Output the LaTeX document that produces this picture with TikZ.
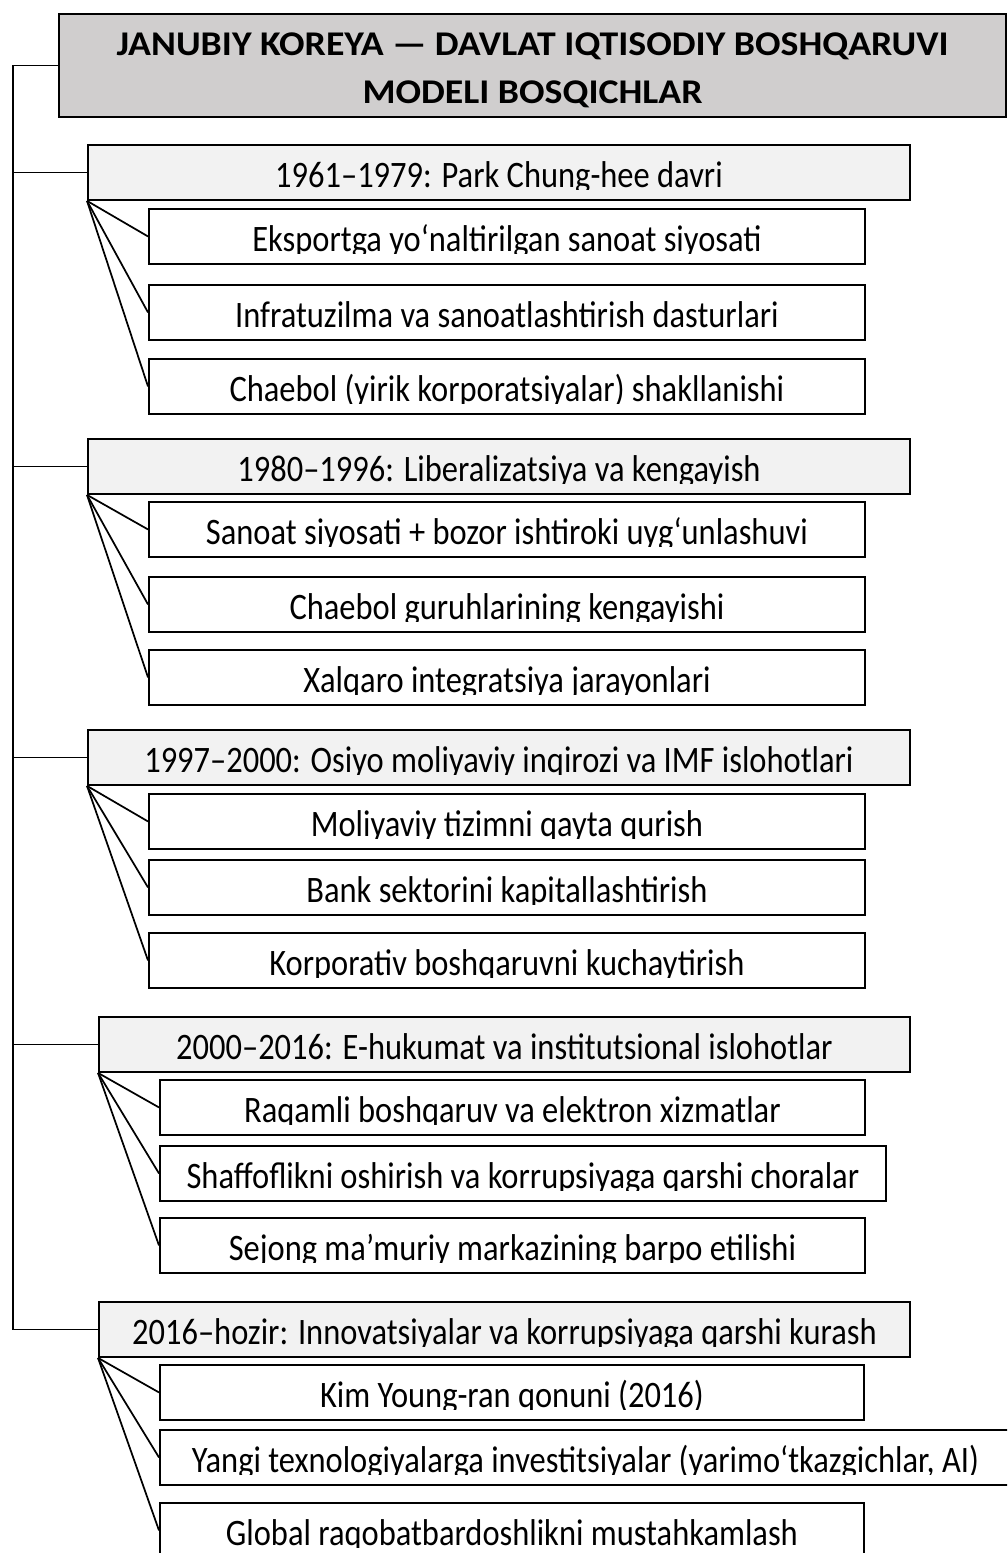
\documentclass[tikz,border=0pt]{standalone}
\usepackage{fontspec}
\setmainfont{Carlito}[FakeStretch=0.87]
\newfontfamily\titlefont{Carlito}[FakeStretch=1.09]
\definecolor{titlegray}{HTML}{D0CECE}
\definecolor{stagegray}{HTML}{F2F2F2}
\tikzset{
  box/.style={draw, line width=1.4pt, anchor=north west, inner sep=0pt, minimum height=41.25pt},
  stagebox/.style={box, fill=stagegray, minimum width=616.5pt},
  itembox/.style={box, fill=white, minimum width=537pt},
  boxtext/.style={path picture={
      \clip (path picture bounding box.north west) rectangle ([yshift=7.5pt]path picture bounding box.south east);
      \node[anchor=base, inner sep=0pt, font=\fontsize{28}{34}\selectfont] at ([yshift=9pt]path picture bounding box.south) {#1};}},
  link/.style={line width=1.3pt},
}
\begin{document}
\begin{tikzpicture}[x=0.75pt, y=-0.75pt]
  \useasboundingbox (0,0) rectangle (1007,1553);
  \clip (0,0) rectangle (1007,1553);
  % sarlavha
  \node[box, fill=titlegray, line width=1.6pt, minimum width=710.25pt, minimum height=77.25pt,
        align=center, font=\titlefont\bfseries\fontsize{26}{34}\selectfont] (title) at (58,13)
        {\rule{0pt}{24pt}JANUBIY KOREYA — DAVLAT IQTISODIY BOSHQARUVI\\[2pt]MODELI BOSQICHLAR};
  % 1961--1979
  \node[stagebox, boxtext={1961–1979: Park Chung-hee davri}] (s1) at (87,144) {};
  \node[itembox, boxtext={Eksportga yo‘naltirilgan sanoat siyosati}] (s1a) at (148,208) {};
  \node[itembox, boxtext={Infratuzilma va sanoatlashtirish dasturlari}] (s1b) at (148,284) {};
  \node[itembox, boxtext={Chaebol (yirik korporatsiyalar) shakllanishi}] (s1c) at (148,358) {};
  % 1980--1996
  \node[stagebox, boxtext={1980–1996: Liberalizatsiya va kengayish}] (s2) at (87,438) {};
  \node[itembox, boxtext={Sanoat siyosati + bozor ishtiroki uyg‘unlashuvi}] (s2a) at (148,501) {};
  \node[itembox, boxtext={Chaebol guruhlarining kengayishi}] (s2b) at (148,576) {};
  \node[itembox, boxtext={Xalqaro integratsiya jarayonlari}] (s2c) at (148,649) {};
  % 1997--2000
  \node[stagebox, boxtext={1997–2000: Osiyo moliyaviy inqirozi va IMF islohotlari}] (s3) at (87,729) {};
  \node[itembox, boxtext={Moliyaviy tizimni qayta qurish}] (s3a) at (148,793) {};
  \node[itembox, boxtext={Bank sektorini kapitallashtirish}] (s3b) at (148,859) {};
  \node[itembox, boxtext={Korporativ boshqaruvni kuchaytirish}] (s3c) at (148,932) {};
  % 2000--2016
  \node[stagebox, minimum width=608.25pt, boxtext={2000–2016: E-hukumat va institutsional islohotlar}] (s4) at (98,1016) {};
  \node[itembox, minimum width=528.75pt, boxtext={Raqamli boshqaruv va elektron xizmatlar}] (s4a) at (159,1079) {};
  \node[itembox, minimum width=544.5pt, boxtext={Shaffoflikni oshirish va korrupsiyaga qarshi choralar}] (s4b) at (159,1145) {};
  \node[itembox, minimum width=528.75pt, boxtext={Sejong ma’muriy markazining barpo etilishi}] (s4c) at (159,1217) {};
  % 2016--hozir
  \node[stagebox, minimum width=608.25pt, boxtext={2016–hozir: Innovatsiyalar va korrupsiyaga qarshi kurash}] (s5) at (98,1301) {};
  \node[itembox, minimum width=528pt, boxtext={Kim Young-ran qonuni (2016)}] (s5a) at (159,1364) {};
  \node[itembox, minimum width=638.25pt, boxtext={Yangi texnologiyalarga investitsiyalar (yarimo‘tkazgichlar, AI)}] (s5b) at (159,1429) {};
  \node[itembox, minimum width=528pt, boxtext={Global raqobatbardoshlikni mustahkamlash}] (s5c) at (159,1502) {};
  % chiziqlar
  \coordinate (trunk) at (13,0);
  \draw[link] (title.west) -- (trunk |- title.west) -- (trunk |- s5.west) -- (s5.west);
  \foreach \s in {s1,s2,s3,s4}
    \draw[link] (trunk |- \s.west) -- (\s.west);
  \foreach \s in {s1,s2,s3,s4,s5}
    \foreach \i in {a,b,c}
      \draw[link] (\s.south west) -- (\s\i.west);
\end{tikzpicture}
\end{document}
